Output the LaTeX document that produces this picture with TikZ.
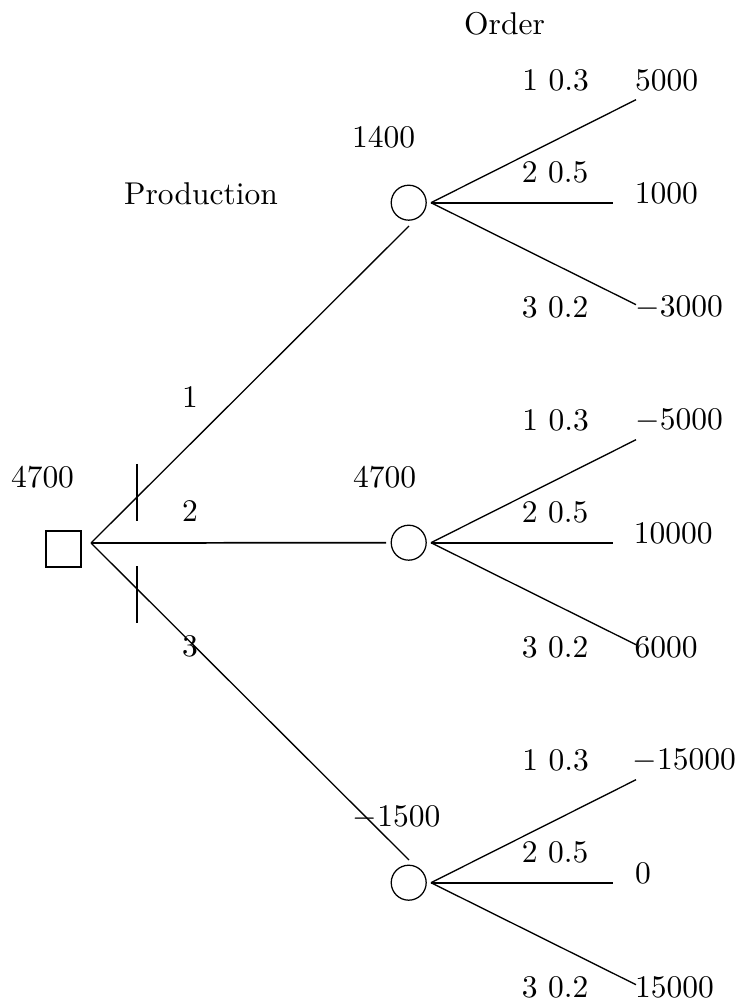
\documentclass[tikz,border=0pt]{standalone}
\usetikzlibrary{calc}
\begin{document}
\begin{tikzpicture}[x=0.3175pt,y=-0.3175pt,
  lbl/.style={inner sep=0pt,anchor=center},
  ln/.style={line width=0.42pt},
  chance/.style={circle,draw,line width=0.4pt,inner sep=0pt,minimum size=11.1pt},
  decision/.style={rectangle,draw,line width=0.55pt,inner sep=0pt,minimum size=11.3pt}]
\useasboundingbox (0,0) rectangle (740,1004);
% decision node
\node[decision] (D) at (63.5,549) {};
\coordinate (d0) at (91,543);
% chance nodes
\node[chance] (C1) at (408.7,202.7) {};
\node[chance] (C2) at (408.7,542.7) {};
\node[chance] (C3) at (408.7,882.7) {};
% ends of decision branches
\coordinate (e1) at (409,226);
\coordinate (e2) at (386,542.7);
\coordinate (e3) at (409,860);
\draw[ln] (d0) -- (e1);
\draw[ln,line width=0.55pt] (d0) -- (e2);
\draw[ln] (d0) -- (e3);
% bars
\coordinate (b1a) at (136.7,464); \coordinate (b1b) at (136.7,521);
\coordinate (b2a) at (136.7,566); \coordinate (b2b) at (136.7,623);
\draw[ln,line width=0.55pt] (b1a) -- (b1b);
\draw[ln,line width=0.55pt] (b2a) -- (b2b);
% chance branches
\foreach \i/\y in {1/202.7,2/542.7,3/882.7}{
  \coordinate (s\i) at (431,\y);
  \coordinate (u\i) at (636,\y-103);
  \coordinate (m\i) at (612.7,\y);
  \coordinate (l\i) at (636,\y+102);
  \draw[ln] (s\i) -- (u\i);
  \draw[ln,line width=0.55pt] (s\i) -- (m\i);
  \draw[ln] (s\i) -- (l\i);
}
% headings
\node[lbl] (order) at (504.5,24) {Order};
\node[lbl] (prod) at (201,193.5) {Production};
% values
\node[lbl] (vD) at (42.5,477) {4700};
\node[lbl] (v1) at (383.5,137.5) {1400};
\node[lbl] (v2) at (384.5,477) {4700};
\node[lbl] (v3) at (396.5,817.5) {$-$1500};
% decision labels
\node[lbl] (a1) at (190,397) {1};
\node[lbl] (a2) at (190,511.5) {2};
\node[lbl] (a3) at (190,646) {3};
% branch labels
\foreach \i/\o in {1/0,2/340,3/680}{
  \node[lbl] (p1\i) at (555.5,80+\o) {1 0.3};
  \node[lbl] (p2\i) at (555,172.5+\o) {2 0.5};
  \node[lbl] (p3\i) at (555,307+\o) {3 0.2};
}
\node[lbl] (r11) at (666.5,80) {5000};
\node[lbl] (r21) at (666.3,193) {1000};
\node[lbl] (r31) at (679,307) {$-$3000};
\node[lbl] (r12) at (679,420) {$-$5000};
\node[lbl] (r22) at (673.3,533) {10000};
\node[lbl] (r32) at (666,647) {6000};
\node[lbl] (r13) at (684.3,760) {$-$15000};
\node[lbl] (r23) at (643,873) {0};
\node[lbl] (r33) at (674.5,987) {15000};
\end{tikzpicture}
\end{document}
